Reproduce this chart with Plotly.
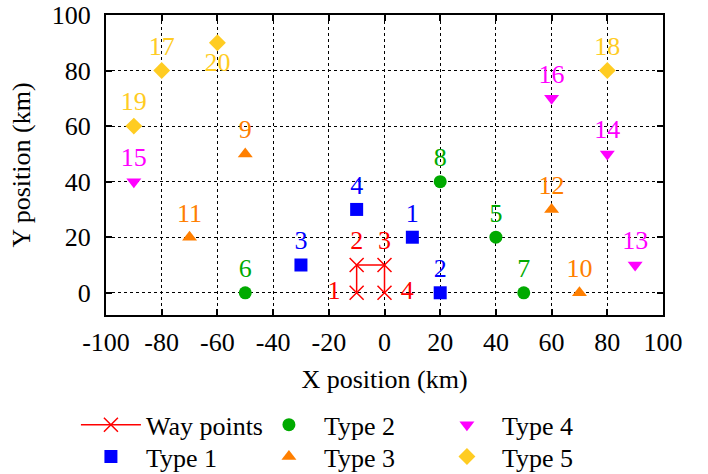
import plotly.graph_objects as go

# ---- data ----
wp_x = [-10, -10, 0, 0]
wp_y = [0, 10, 10, 0]
wp_labels = ["1\u00a0", "2", "3", "\u00a04"]
wp_pos = ["middle left", "top center", "top center", "middle right"]

t1_x = [10, 20, -30, -10]
t1_y = [20, 0, 10, 30]
t1_labels = ["1", "2", "3", "4"]

t2_x = [40, -50, 50, 20]
t2_y = [20, 0, 0, 40]
t2_labels = ["5", "6", "7", "8"]

t3_x = [-50, 70, -70, 60]
t3_y = [50, 0, 20, 30]
t3_labels = ["9", "10", "11", "12"]

t4_x = [90, 80, -90, 60]
t4_y = [10, 50, 40, 70]
t4_labels = ["13", "14", "15", "16"]

t5_x = [-80, 80, -90, -60]
t5_y = [80, 80, 60, 90]
t5_labels = ["17", "18", "19", "20"]
t5_pos = ["top center", "top center", "top center", "bottom center"]

x_ticks = [-100, -80, -60, -40, -20, 0, 20, 40, 60, 80, 100]
y_ticks = [0, 20, 40, 60, 80, 100]

FONT = "Liberation Serif, Times New Roman, Times, serif"
FS = 26
RED = "#ff0000"
BLUE = "#0000ff"
GREEN = "#00aa00"
ORANGE = "#ff7f00"
MAGENTA = "#ff00ff"
GOLD = "#ffcc22"

fig = go.Figure()

def add(x, y, labels, pos, name, color, symbol, size, legend, mode="markers+text", line=None):
    fig.add_trace(go.Scatter(
        x=x, y=y, text=labels, mode=mode, name=name,
        textposition=pos,
        textfont=dict(family=FONT, size=FS, color=color),
        marker=dict(symbol=symbol, size=size, color=color,
                    line=dict(color=color, width=1.5) if symbol == "x-thin" else dict(width=0)),
        line=line, legend=legend, cliponaxis=False,
    ))

add(wp_x, wp_y, wp_labels, wp_pos, "Way points", RED, "x-thin", 14, "legend",
    mode="lines+markers+text", line=dict(color=RED, width=1.5))
add(t2_x, t2_y, t2_labels, "top center", "Type 2", GREEN, "circle", 13, "legend")
add(t4_x, t4_y, t4_labels, "top center", "Type 4", MAGENTA, "triangle-down", 13, "legend")
add(t1_x, t1_y, t1_labels, "top center", "Type 1", BLUE, "square", 13, "legend2")
add(t3_x, t3_y, t3_labels, "top center", "Type 3", ORANGE, "triangle-up", 13, "legend2")
add(t5_x, t5_y, t5_labels, t5_pos, "Type 5", GOLD, "diamond", 13, "legend2")

axis_common = dict(
    showgrid=True, gridcolor="black", griddash="dot", gridwidth=1,
    zeroline=False, showline=True, linecolor="black", linewidth=2, mirror="allticks",
    ticks="inside", ticklen=6, tickcolor="black", tickwidth=1.5, automargin=False,
    tickfont=dict(family=FONT, size=FS, color="black"),
)

fig.update_xaxes(range=[-100, 100], tickvals=x_ticks, ticktext=[str(v) for v in x_ticks],
                 ticklabelstandoff=3,
                 title=dict(text="X position (km)", font=dict(family=FONT, size=FS, color="black"), standoff=14),
                 **axis_common)
fig.update_yaxes(range=[-8, 100], tickvals=y_ticks, ticktext=[str(v) for v in y_ticks],
                 ticklabelstandoff=8,
                 title=dict(text="Y position (km)", font=dict(family=FONT, size=FS, color="black"), standoff=14),
                 **axis_common)

leg_common = dict(orientation="h", xanchor="left", yanchor="middle",
                  font=dict(family=FONT, size=FS, color="black"),
                  itemwidth=60, entrywidth=103, bgcolor="rgba(0,0,0,0)", tracegroupgap=0)

fig.update_layout(
    width=708, height=474,
    margin=dict(l=106, r=45, t=15, b=159, autoexpand=False),
    plot_bgcolor="white", paper_bgcolor="white",
    legend=dict(x=-0.054, y=-0.366, **leg_common),
    legend2=dict(x=-0.054, y=-0.472, **leg_common),
    font=dict(family=FONT, size=FS, color="black"),
)

fig.write_html("out.html")
